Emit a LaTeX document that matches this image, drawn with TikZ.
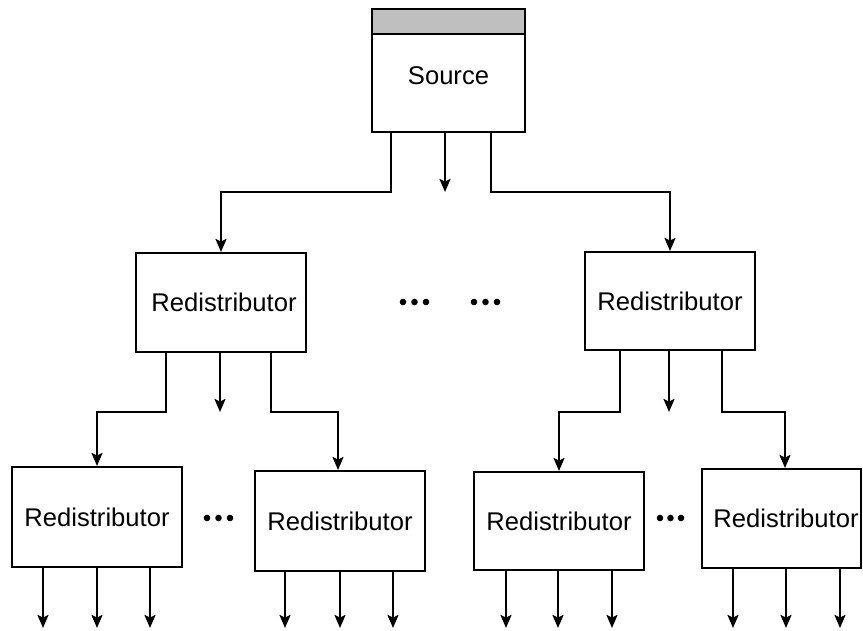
\documentclass[tikz,border=0pt]{standalone}
\usepackage{fontspec}
\setmainfont{Liberation Sans}
\usetikzlibrary{calc,arrows.meta}
\begin{document}
\begin{tikzpicture}[x=1pt,y=-1pt,
  box/.style={draw=black, line width=2pt, fill=white, rectangle, inner sep=0pt,
    font=\fontsize{25.6}{30}\selectfont},
  redist/.style={box, minimum width=170pt, minimum height=99pt},
  arr/.style={line width=2pt, -{Stealth[length=13pt,width=11pt,inset=2.5pt]}},
  dot/.style={fill=black}]
\useasboundingbox (0,0) rectangle (863,631);

% source with its grey header strip
\node[box, minimum width=153pt, minimum height=98pt, text height=12pt, text depth=8pt]
  (src) at (448.5,83) {Source};
\node[box, fill=gray!50, minimum width=153pt, minimum height=25pt] (bar) at (448.5,21.5) {};

% middle level
\node[redist] (rA) at (221,302.5) {\hspace*{6pt}Redistributor};
\node[redist, minimum height=98pt] (rB) at (670,301) {Redistributor};

% bottom level
\node[redist, minimum height=100pt] (b1) at (97,517) {Redistributor};
\node[redist, minimum height=100pt] (b2) at (340,521) {Redistributor};
\node[redist, minimum height=98pt] (b3) at (559,521) {Redistributor};
\node[redist, minimum width=159pt] (b4) at (781.5,518.5) {\hspace*{9pt}Redistributor};

% source outputs
\draw[arr] ($(src.south west)+(20,0)$) -- ++(0,59) -| (rA.north);
\draw[arr] ($(src.south)+(-3.5,0)$) -- ++(0,59);
\draw[arr] ($(src.south east)+(-35,0)$) -- ++(0,59) -| (rB.north);

% left redistributor outputs
\draw[arr] ($(rA.south west)+(31,0)$) -- ++(0,59) -| (b1.north);
\draw[arr] ($(rA.south)+(-1,0)$) -- ++(0,59);
\draw[arr] ($(rA.south east)+(-36,0)$) -- ++(0,59) -| ($(b2.north)+(-2,0)$);

% right redistributor outputs
\draw[arr] ($(rB.south west)+(36,0)$) -- ++(0,61) -| (b3.north);
\draw[arr] ($(rB.south)+(-1,0)$) -- ++(0,61);
\draw[arr] ($(rB.south east)+(-34,0)$) -- ++(0,61) -| ($(b4.north)+(3.5,0)$);

% leaf outputs
\foreach \dx in {-54,0,53} \draw[arr] ($(b1.south)+(\dx,0)$) -- ++(0,60);
\foreach \dx in {-55,0,53} \draw[arr] ($(b2.south)+(\dx,0)$) -- ++(0,56);
\foreach \dx in {-53,-1,53} \draw[arr] ($(b3.south)+(\dx,0)$) -- ++(0,57);
\foreach \dx in {-48.5,4.5,58.5} \draw[arr] ($(b4.south)+(\dx,0)$) -- ++(0,59);

% ellipses between siblings
\foreach \x in {403,414.5,426, 474,485.5,497} \fill[dot] (\x,302) circle (3.3);
\foreach \x in {207,218.5,230, 660,670.5,681} \fill[dot] (\x,518) circle (3.3);
\end{tikzpicture}
\end{document}
